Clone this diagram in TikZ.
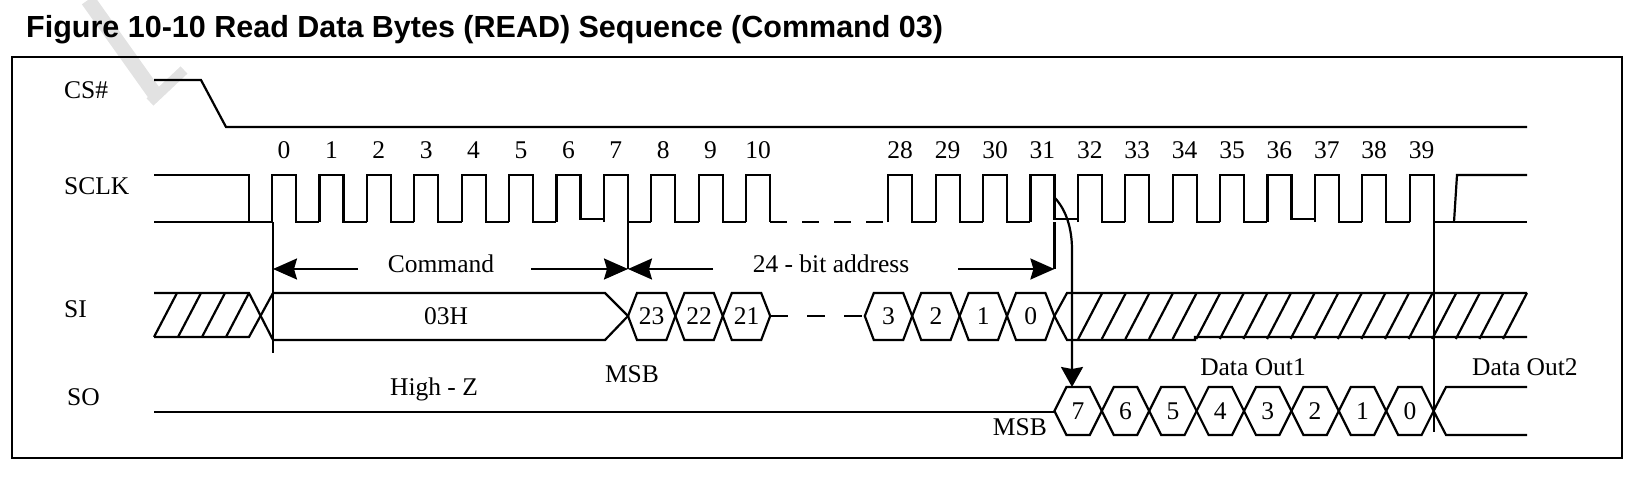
\documentclass[tikz,border=0pt]{standalone}
\usepackage{fontspec}
\setmainfont{Liberation Serif}
\newfontfamily\titlefont{Liberation Sans}
\usepackage{xcolor}
\usepackage{tikz}
\usetikzlibrary{arrows.meta}
\definecolor{ink}{HTML}{000000}
\definecolor{mark}{HTML}{E2E2E2}
\tikzset{
  wave/.style={draw=ink, line width=2.2pt},
  frame/.style={draw=ink, line width=2.6pt},
  dimarrow/.style={draw=ink, line width=2.2pt, -{Stealth[length=24pt,width=21pt,inset=3pt]}},
  wmark/.style={draw=mark, line cap=butt},
  lab/.style={text=ink, inner sep=0pt, font=\fontsize{25.5}{28}\selectfont},
  ttl/.style={text=ink, inner sep=0pt, font=\titlefont\bfseries\fontsize{30.5}{34}\selectfont},
}

\begin{document}
\begin{tikzpicture}[x=1pt,y=-1pt]
  \useasboundingbox (0,0) rectangle (1638,480);

  % faint watermark stroke
  \draw[wmark, line width=15pt] (88,0) -- (157,97);
  \draw[wmark, line width=10pt] (150,102) -- (184,70);

  \node[ttl, anchor=base west] (title) at (26,37) {Figure 10-10 Read Data Bytes (READ) Sequence (Command 03)};
  \draw[frame] (12,57) rectangle (1622,458);

  % signal names
  \node[lab, anchor=base west] (cs) at (64,98) {CS\#};
  \node[lab, anchor=base west] (sclk) at (64,194) {SCLK};
  \node[lab, anchor=base west] (si) at (64,317) {SI};
  \node[lab, anchor=base west] (so) at (67,405) {SO};

  % CS#
  \draw[wave] (154,80) -- (201,80) -- (226,127) -- (1527,127);

  % SCLK
  \draw[wave] (154,175) -- (249,175) -- (249,222);
  \draw[wave] (154,222) -- (273,222);
  \foreach \s/\lo in {0/222,1/222,2/222,3/222,4/222,5/222,6/219,7/222,8/222,9/222,
                      13/222,14/222,15/222,16/219,17/222,18/222,19/222,20/222,21/219,22/222,23/222}{
    \pgfmathsetmacro\r{272+47.4*\s}
    \draw[wave] (\r,222) -- (\r,175) -- (\r+24,175) -- (\r+24,\lo) -- (\r+47.4,\lo);
  }
  \foreach \s in {10,24}{
    \pgfmathsetmacro\r{272+47.4*\s}
    \draw[wave] (\r,222) -- (\r,175) -- (\r+24,175) -- (\r+24,222);
  }
  \draw[wave, dash pattern=on 17pt off 15pt] (770.2,222) -- (887,222);
  \draw[wave] (1433.6,222) -- (1527,222);
  \draw[wave] (1454,222) -- (1457,175) -- (1527,175);

  % clock numbers
  \foreach \n/\s in {0/0,1/1,2/2,3/3,4/4,5/5,6/6,7/7,8/8,9/9,10/10,
                     28/13,29/14,30/15,31/16,32/17,33/18,34/19,35/20,36/21,37/22,38/23,39/24}
    \node[lab, anchor=base] (c\n) at ({284+47.4*\s},158) {\n};

  % edge markers
  \draw[wave] (273,222) -- (273,353);
  \draw[wave] (628,222) -- (628,269);
  \draw[wave] (1054.4,222) -- (1054.4,269);
  \draw[wave] (1433.6,222) -- (1433.6,432);

  % command / address spans
  \coordinate (t0) at (273,269);
  \coordinate (t7) at (628,269);
  \coordinate (t31) at (1054.4,269);
  \coordinate (cmdA) at (358,269);
  \coordinate (cmdB) at (531,269);
  \coordinate (adrA) at (713,269);
  \coordinate (adrB) at (958,269);
  \draw[dimarrow] (cmdA) -- (t0);
  \draw[dimarrow] (cmdB) -- (t7);
  \draw[dimarrow] (adrA) -- (t7);
  \draw[dimarrow] (adrB) -- (t31);
  \node[lab, anchor=base] (cmd) at (441,272) {Command};
  \node[lab, anchor=base] (adr) at (831,272) {24 - bit address};

  % SI
  \draw[wave] (154,293) -- (249,293) -- (273,340);
  \draw[wave] (154,337) -- (249,337) -- (273,293);
  \foreach \t in {177,201,225,249}
    \draw[wave] (\t-23,337) -- (\t,293);
  \draw[wave] (273,293) -- (605,293) -- (628,316) -- (605,340) -- (273,340);
  \node[lab] (opcode) at (446,316) {03H};
  \foreach \a/\v in {628/23,675.4/22,722.8/21,864.8/3,912.2/2,959.6/1,1007/0}{
    \draw[wave] (\a,316) -- (\a+9,293) -- (\a+38.4,293) -- (\a+47.4,316)
      -- (\a+38.4,340) -- (\a+9,340) -- cycle;
    \node[lab] (si\v) at (\a+23.7,316) {\v};
  }
  \draw[wave, dash pattern=on 18pt off 19pt] (770.2,316) -- (864.8,316);
  \draw[wave] (1054.4,316) -- (1067,293) -- (1527,293);
  \draw[wave] (1054.4,316) -- (1067,340) -- (1195,340) -- (1195,337) -- (1527,337);
  \foreach \k in {0,...,18}
    \draw[wave] ({1078.2+23.6*\k},339) -- ({1102.2+23.6*\k},293);
  \node[lab, anchor=base] (msbi) at (632,382) {MSB};

  % SO
  \draw[wave] (154,412) -- (1054.4,412);
  \node[lab, anchor=base] (hiz) at (434,395) {High - Z};
  \foreach \k/\v in {0/7,1/6,2/5,3/4,4/3,5/2,6/1,7/0}{
    \pgfmathsetmacro\a{1054.4+47.4*\k}
    \draw[wave] (\a,411) -- (\a+12,387) -- (\a+35.4,387) -- (\a+47.4,411)
      -- (\a+35.4,435) -- (\a+12,435) -- cycle;
    \node[lab] (so\v) at (\a+23.7,411) {\v};
  }
  \draw[wave] (1433.6,411) -- (1446,387) -- (1527,387);
  \draw[wave] (1433.6,411) -- (1446,435) -- (1527,435);
  \node[lab, anchor=base east] (msbo) at (1047,435) {MSB};
  \node[lab, anchor=base] (out1) at (1253,375) {Data Out1};
  \node[lab, anchor=base west] (out2) at (1472,375) {Data Out2};

  % first output bit after clock 31
  \coordinate (f31) at (1055,198);
  \coordinate (q7) at (1072,387);
  \draw[wave, -{Stealth[length=20pt,width=22pt,inset=2pt]}]
    (f31) .. controls (1066,210) and (1072,228) .. (1072,250) -- (q7);
\end{tikzpicture}
\end{document}
